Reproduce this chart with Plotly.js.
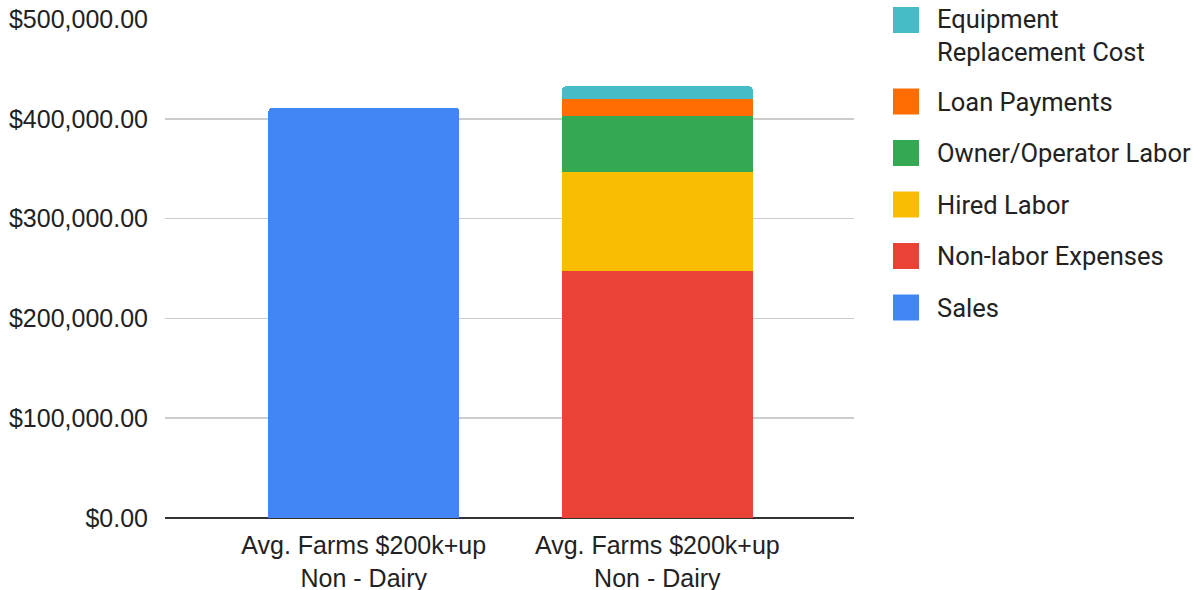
<!DOCTYPE html>
<html>
<head>
<meta charset="utf-8">
<script src="https://cdn.plot.ly/plotly-3.0.1.min.js"></script>
<style>
  html, body { margin: 0; padding: 0; background: #fff; }
  #chart { width: 1202px; height: 590px; }
</style>
</head>
<body>
<div id="chart"></div>
<script>
// ---- Data ----
const categories = ["Avg. Farms $200k+up<br>Non - Dairy", "Avg. Farms $200k+up<br>Non - Dairy"];
const seriesNames = ["Sales", "Non-labor Expenses", "Hired Labor", "Owner/Operator Labor", "Loan Payments", "Equipment<br>Replacement Cost"];
const salesValues = [411000, null];
const nonLaborValues = [null, 248000];
const hiredLaborValues = [null, 99000];
const ownerLaborValues = [null, 55500];
const loanPaymentsValues = [null, 17000];
const equipmentValues = [null, 13000];
const yTickValues = [0, 100000, 200000, 300000, 400000, 500000];

// ---- Styles ----
const seriesColors = ["#4285F4", "#EA4335", "#FBBC04", "#34A853", "#FF6D01", "#46BDC6"];
const seriesValues = [salesValues, nonLaborValues, hiredLaborValues, ownerLaborValues, loanPaymentsValues, equipmentValues];

const W = 1202, H = 590;
const M = { l: 165, r: 348, t: 19, b: 72 };
const plotW = W - M.l - M.r, plotH = H - M.t - M.b;
const px2x = px => (px - M.l) / plotW;
const px2y = py => (H - M.b - py) / plotH;

const xPos = categories.map((c, i) => i);

const traces = seriesNames.map((name, i) => ({
  type: "bar",
  name: name.replace("<br>", " "),
  x: xPos,
  y: seriesValues[i],
  width: 0.65,
  marker: Object.assign({ color: seriesColors[i], line: { width: 0 } },
    i === seriesNames.length - 1 ? { cornerradius: 4 } : {}),
  hoverinfo: "name+y"
}));

// ---- Custom legend (swatches + text) built from series names/colors ----
const shapes = [];
const annotations = [];
let cursor = 20;
const legendFont = { family: "Roboto, sans-serif", size: 25.5, color: "#222222" };
for (let i = seriesNames.length - 1; i >= 0; i--) {
  const lines = seriesNames[i].split("<br>").length;
  shapes.push({
    type: "rect", xref: "paper", yref: "paper",
    x0: px2x(893), x1: px2x(919),
    y0: px2y(cursor - 13), y1: px2y(cursor + 13),
    fillcolor: seriesColors[i], line: { width: 0 }, layer: "above"
  });
  annotations.push({
    xref: "paper", yref: "paper",
    x: px2x(936), y: px2y(cursor + (lines - 1) * 15),
    xanchor: "left", yanchor: "middle", align: "left",
    text: seriesNames[i], showarrow: false, font: legendFont, borderpad: 0
  });
  cursor += 51.5 + (lines - 1) * 30;
}

const tickFont = { family: "Liberation Sans, Arial, sans-serif", size: 25, color: "#222222" };

const layout = {
  width: W,
  height: H,
  barmode: "stack",
  paper_bgcolor: "#ffffff",
  plot_bgcolor: "#ffffff",
  margin: { l: M.l, r: M.r, t: M.t, b: M.b, pad: 0, autoexpand: false },
  font: tickFont,
  showlegend: false,
  xaxis: {
    range: [-0.677, 1.670],
    tickvals: xPos,
    ticktext: categories,
    showgrid: false,
    zeroline: false,
    showline: false,
    ticks: "",
    ticklabelstandoff: 10,
    tickfont: tickFont,
    automargin: false
  },
  yaxis: {
    range: [0, 500000],
    tickvals: yTickValues,
    tickformat: "$,.2f",
    showgrid: true,
    gridcolor: "#cccccc",
    gridwidth: 1.5,
    zeroline: true,
    zerolinecolor: "#333333",
    zerolinewidth: 2,
    showline: false,
    ticks: "",
    ticklabelstandoff: 16,
    tickfont: tickFont,
    automargin: false
  },
  shapes: shapes,
  annotations: annotations
};

Plotly.newPlot("chart", traces, layout, { displayModeBar: false, staticPlot: true });
</script>
</body>
</html>
